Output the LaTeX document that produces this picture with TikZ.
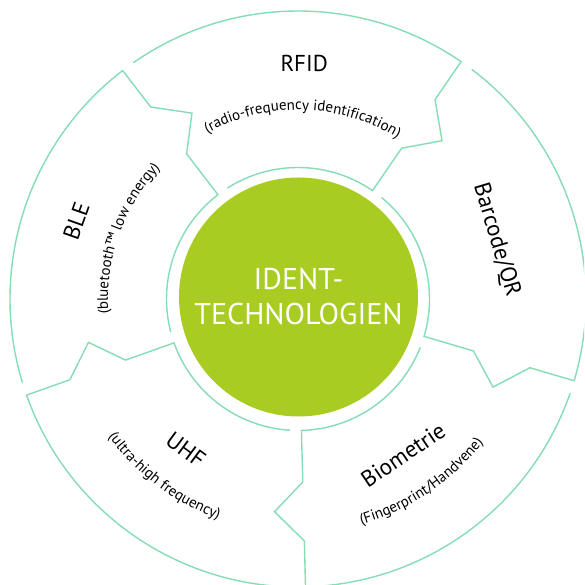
\documentclass[tikz,border=0pt]{standalone}
\usepackage{fontspec}
\setmainfont{PT Sans}
\usepackage{tikz}
\usetikzlibrary{
  positioning,
  calc,
  decorations.text
}
\usepackage{xcolor}
\definecolor{mintLine}{rgb}{0.5234375,0.86328125,0.7109375}
\definecolor{limeGreen}{rgb}{0.66015625,0.80078125,0.1328125}
\newcommand{\titleFont}{\fontsize{23}{27}\selectfont}
\newcommand{\subFont}{\fontsize{15}{17}\selectfont}
\newcommand{\identSegment}[2]{
  \draw[segLine]
  (#1-2.6:288pt) arc[start angle=#1-2.6, end angle=#2, radius=288pt]
  -- (#2:242pt) -- (#2-7.8:214pt) -- (#2:183pt) -- (#2:131.5pt)
  arc[start angle=#2, end angle=#1-5, radius=131.5pt];
}
\newcommand{\subLabel}[4]{
  \path[decorate, decoration={text along path, text align=center,
    text={|\subFont|#4}}]
  (#2:#1) arc[start angle=#2, end angle=#3, radius=#1];
}
\tikzset{
  segLine/.style={
    draw=mintLine,
    line width=1.4pt,
    line join=miter
  }
}
\tikzset{
  identCore/.style={
    circle,
    fill=limeGreen,
    minimum size=239pt,
    inner sep=0pt,
    align=center,
    text=white,
    font=\fontsize{30}{35}\selectfont
  }
}
\tikzset{
  segTitle/.style={
    inner sep=0pt,
    text=black,
    font=\titleFont
  }
}

\begin{document}
\begin{tikzpicture}
    \useasboundingbox (-298pt,-286pt) rectangle (286pt,299pt);
    \clip (-298pt,-286pt) rectangle (286pt,299pt);
    % ring of five segments, each pointing clockwise
    \identSegment{127.5}{55.5}
    \identSegment{55.5}{-16.5}
    \identSegment{-16.5}{-88.5}
    \identSegment{-88.5}{-160.5}
    \identSegment{-160.5}{-232.5}
    \node[identCore] (core) at (0.5pt,2pt) {IDENT-\\TECHNOLOGIEN};
    % titles
    \node[segTitle] (rfid) at (88.5:236pt) {RFID};
    \node[segTitle, rotate=-73.4] (barcode) at (16.6:207pt) {Barcode/QR};
    \node[segTitle, rotate=34] (bio) at (-56:188pt) {Biometrie};
    \node[segTitle, rotate=-36.6] (uhf) at (-126.6:188pt) {UHF};
    \node[segTitle, rotate=70.6] (ble) at (160.6:235pt) {BLE};
    % subtitles
    \subLabel{189pt}{126}{51}{(radio-frequency identification)}
    \subLabel{234pt}{-93}{-19}{(Fingerprint/Handvene)}
    \subLabel{234pt}{-164}{-90}{(ultra-high frequency)}
    \subLabel{190pt}{197}{124}{(bluetooth™ low energy)}
\end{tikzpicture}
\end{document}
